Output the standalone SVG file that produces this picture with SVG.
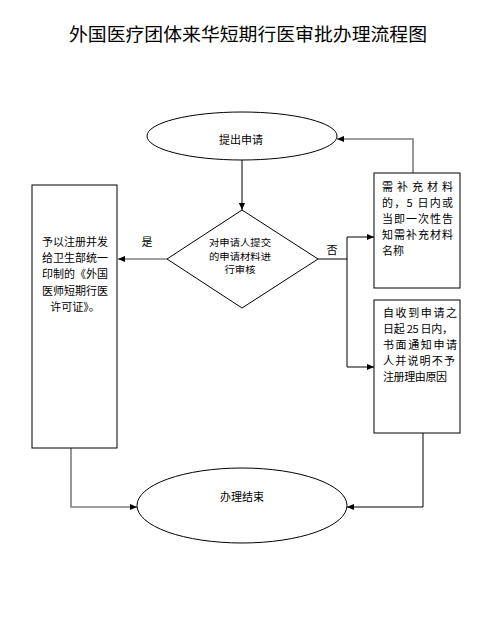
<svg xmlns="http://www.w3.org/2000/svg" width="498" height="637" viewBox="0 0 498 637">
<style>
text{font-family:"Noto Sans CJK SC","Noto Sans CJK JP",sans-serif;font-size:11px;fill:#000}
.title{font-size:18px}
.dia{font-size:9.4px}
.shape{fill:#fff;stroke:#000;stroke-width:1}
.blk{fill:none;stroke:#000;stroke-width:1}
.gry{fill:none;stroke:#7f7f7f;stroke-width:1.6}
.mid{text-anchor:middle}
</style>
<defs>
<marker id="ah" viewBox="0 0 8 8" refX="8" refY="4" markerWidth="7" markerHeight="7" markerUnits="userSpaceOnUse" orient="auto">
<path d="M0,0.5 L8,4 L0,7.5 Z" fill="#000"/>
</marker>
</defs>
<rect width="498" height="637" fill="#fff"/>
<text class="title" x="69" y="41" textLength="358" lengthAdjust="spacingAndGlyphs">外国医疗团体来华短期行医审批办理流程图</text>

<g id="connectors">
<line class="blk" x1="242" y1="160" x2="242" y2="210" marker-end="url(#ah)"/>
<line class="gry" x1="167" y1="259" x2="118" y2="259" marker-end="url(#ah)"/>
<polyline class="blk" points="318,259 347,259 347,237 374,237" marker-end="url(#ah)"/>
<polyline class="blk" points="347,259 347,367 374,367" marker-end="url(#ah)"/>
<polyline class="gry" points="413,173 413,139 337,139" marker-end="url(#ah)"/>
<polyline class="blk" points="423,433 423,507 347,507" marker-end="url(#ah)"/>
<polyline class="gry" points="71,448 71,507 137,507" marker-end="url(#ah)"/>
<text class="mid" x="332" y="254">否</text>
<text class="mid" x="147" y="246">是</text>
</g>

<g id="start">
<ellipse class="shape" cx="242" cy="136" rx="95" ry="24"/>
<text class="mid" x="241" y="144">提出申请</text>
</g>

<g id="review">
<polygon class="shape" points="242,210 318,259 242,308 167,259"/>
<text class="mid dia" x="240" y="246" textLength="62" lengthAdjust="spacingAndGlyphs">对申请人提交</text>
<text class="mid dia" x="240" y="259.5" textLength="62" lengthAdjust="spacingAndGlyphs">的申请材料进</text>
<text class="mid dia" x="240" y="273" textLength="31" lengthAdjust="spacingAndGlyphs">行审核</text>
</g>

<g id="approve">
<rect class="shape" x="32" y="185" width="85" height="263"/>
<text class="mid" x="75" y="246">予以注册并发</text>
<text class="mid" x="75" y="262">给卫生部统一</text>
<text class="mid" x="75" y="278">印制的《外国</text>
<text class="mid" x="75" y="295">医师短期行医</text>
<text class="mid" x="75" y="311">许可证》。</text>
</g>

<g id="supplement">
<rect class="shape" x="374" y="173" width="86" height="115"/>
<text x="382" y="191" textLength="71" lengthAdjust="spacing">需补充材料</text>
<text x="382" y="207" textLength="71" lengthAdjust="spacing">的，5 日内或</text>
<text x="382" y="223" textLength="71" lengthAdjust="spacing">当即一次性告</text>
<text x="382" y="239" textLength="71" lengthAdjust="spacing">知需补充材料</text>
<text x="382" y="255">名称</text>
</g>

<g id="reject">
<rect class="shape" x="374" y="300" width="86" height="133"/>
<text x="383" y="317" textLength="74" lengthAdjust="spacing">自收到申请之</text>
<text x="383" y="333" textLength="70" lengthAdjust="spacing">日起 25 日内，</text>
<text x="383" y="349" textLength="74" lengthAdjust="spacing">书面通知申请</text>
<text x="383" y="365" textLength="72" lengthAdjust="spacing">人并说明不予</text>
<text x="383" y="381" textLength="64" lengthAdjust="spacing">注册理由原因</text>
</g>

<g id="end">
<ellipse class="shape" cx="242" cy="505.5" rx="105" ry="37.5"/>
<text class="mid" x="242" y="501">办理结束</text>
</g>
</svg>
